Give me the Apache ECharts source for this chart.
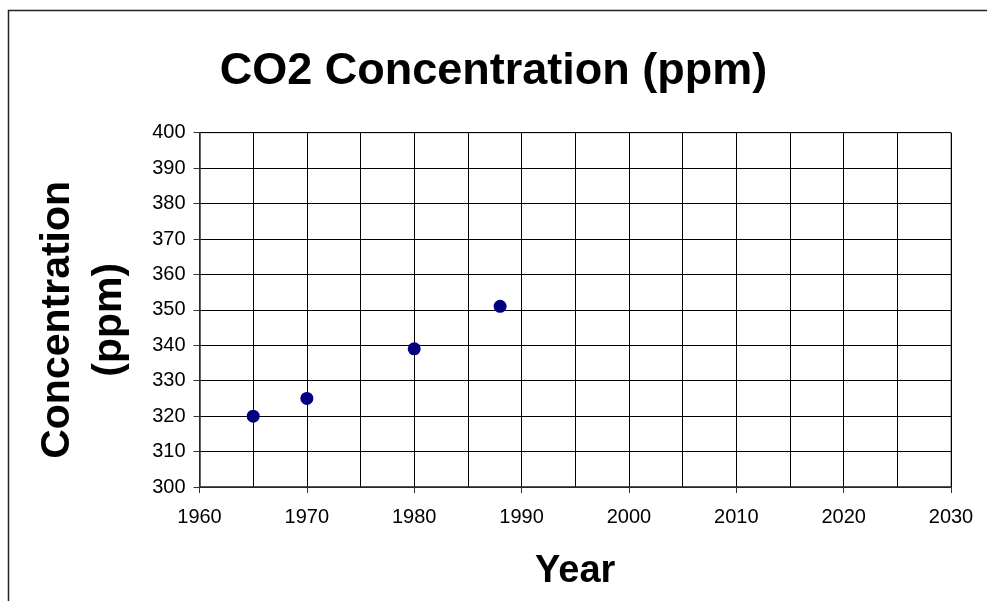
<!DOCTYPE html>
<html>
<head>
<meta charset="utf-8">
<script src="https://cdn.jsdelivr.net/npm/echarts@6/dist/echarts.min.js"></script>
<style>html,body{margin:0;padding:0;background:#fff;}#c{width:987px;height:601px;}</style>
</head>
<body>
<div id="c"></div>
<script>
const years = [1965, 1970, 1980, 1988];
const ppm = [320, 325, 339, 351];
const titleText = 'CO2 Concentration (ppm)';
const xName = 'Year';
const yName = 'Concentration\n(ppm)';

const FONT = '"Liberation Sans", Arial, sans-serif';
const chart = echarts.init(document.getElementById('c'), null, {renderer: 'canvas'});
chart.setOption({
  animation: false,
  backgroundColor: '#fff',
  title: {
    text: titleText, left: 'center', top: 44,
    textStyle: {fontFamily: FONT, fontWeight: 'bold', fontSize: 45, color: '#000'}
  },
  graphic: [{
    type: 'rect', silent: true,
    shape: {x: 8.5, y: 10.5, width: 1100, height: 800},
    style: {fill: 'none', stroke: '#222', lineWidth: 1.5}
  }],
  grid: {left: 199.5, top: 132.7, right: 36, bottom: 114, show: true, borderColor: '#777', borderWidth: 1, backgroundColor: 'transparent'},
  xAxis: {
    type: 'value', min: 1960, max: 2030, interval: 10,
    name: xName, nameLocation: 'middle', nameGap: 66,
    nameTextStyle: {fontFamily: FONT, fontWeight: 'bold', fontSize: 38, color: '#000'},
    axisLine: {show: true, lineStyle: {color: '#333', width: 1.5}},
    axisTick: {show: true, length: 6, lineStyle: {color: '#333'}},
    axisLabel: {fontFamily: FONT, fontSize: 20, color: '#000', margin: 20, formatter: v => String(v)},
    splitLine: {show: true, lineStyle: {color: '#000', width: 1}},
    minorTick: {show: false, splitNumber: 2},
    minorSplitLine: {show: true, lineStyle: {color: '#000', width: 1}}
  },
  yAxis: {
    type: 'value', min: 300, max: 400, interval: 10,
    name: yName, nameLocation: 'middle', nameGap: 64, nameRotate: 90,
    nameTextStyle: {fontFamily: FONT, fontWeight: 'bold', fontSize: 41, color: '#000', lineHeight: 52, padding: [0, 20, 0, 0]},
    axisLine: {show: true, lineStyle: {color: '#333', width: 1.5}},
    axisTick: {show: true, length: 6, lineStyle: {color: '#333'}},
    axisLabel: {fontFamily: FONT, fontSize: 20, color: '#000', margin: 14},
    splitLine: {show: true, lineStyle: {color: '#000', width: 1}}
  },
  series: [{
    type: 'scatter',
    data: years.map((y, i) => [y, ppm[i]]),
    symbol: 'circle', symbolSize: 13,
    itemStyle: {color: '#000080', opacity: 1}
  }]
});
</script>
</body>
</html>
